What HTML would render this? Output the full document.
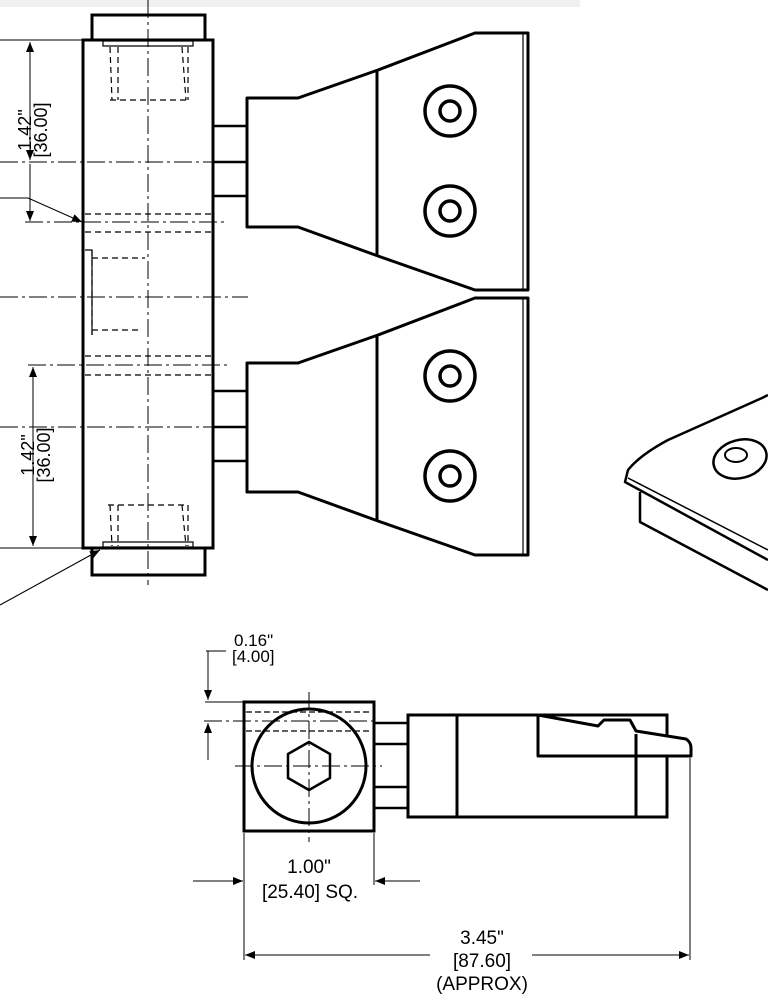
<!DOCTYPE html>
<html><head><meta charset="utf-8"><style>
html,body{margin:0;padding:0;background:#fff;}
svg{display:block;}
text{font-family:"Liberation Sans",sans-serif;fill:#000;}
</style></head><body>
<svg width="768" height="1006" viewBox="0 0 768 1006" xmlns="http://www.w3.org/2000/svg">
<defs>
<marker id="ar" viewBox="0 0 10 10" refX="10" refY="5" markerWidth="18" markerHeight="10" markerUnits="userSpaceOnUse" orient="auto-start-reverse"><path d="M0,1 L10,5 L0,9 z" fill="#000"/></marker>
<g id="jaw">
<path d="M247,98 L298,98 L378,70 L475,33 L528,33 L528,290 L475,290 L378,256 L298,227 L247,227 Z" fill="none" stroke="#000" stroke-width="3" stroke-linejoin="round"/>
<line x1="377" y1="70" x2="377" y2="256" stroke="#000" stroke-width="3"/>
<line x1="523" y1="33" x2="523" y2="290" stroke="#000" stroke-width="1.2"/>
<rect x="213" y="126" width="34" height="70" fill="none" stroke="#000" stroke-width="2.5"/>
<line x1="213" y1="162" x2="247" y2="162" stroke="#000" stroke-width="2.5"/>
<g fill="none" stroke="#000" stroke-width="3.5">
<circle cx="450" cy="111" r="25"/><circle cx="450" cy="111" r="10"/>
<circle cx="450" cy="211" r="25"/><circle cx="450" cy="211" r="10"/>
</g>
</g>
</defs>
<rect x="0" y="0" width="580" height="7" fill="#f0f0f0"/>
<!-- top view -->
<g fill="none" stroke="#000">
<rect x="92" y="15" width="113" height="25" stroke-width="3"/>
<rect x="92" y="548" width="113" height="27" stroke-width="3"/>
<rect x="83" y="40" width="130" height="508" stroke-width="3"/>
<g stroke-width="1.2" stroke-dasharray="6,4">
<path d="M110,47 L112,100 M118,47 L118,100 M188,47 L188,100 M182,47 L186,100 M110,100 L188,100"/>
<path d="M110,505 L112,546 M118,505 L118,546 M188,505 L188,546 M182,505 L186,546 M108,505 L188,505"/>
<line x1="85" y1="214" x2="211" y2="214"/><line x1="85" y1="232" x2="211" y2="232"/>
<line x1="85" y1="356" x2="211" y2="356"/><line x1="85" y1="375" x2="211" y2="375"/>
<path d="M92,250 L92,335 M92,258 L145,258 M92,330 L140,330"/>
</g>
<path d="M103,41 L193,41 L193,46 L103,46Z M103,542 L193,542 L193,547 L103,547Z" stroke-width="1.2"/>
<path d="M85,250 L92,250 L92,335" stroke-width="1.2"/>
<g stroke-width="1" stroke-dasharray="18,4,3,4">
<line x1="148" y1="0" x2="148" y2="585"/>
<line x1="0" y1="162" x2="213" y2="162"/>
<line x1="25" y1="222" x2="228" y2="222"/>
<line x1="0" y1="297" x2="248" y2="297"/>
<line x1="28" y1="365" x2="228" y2="365"/>
<line x1="0" y1="427" x2="213" y2="427"/>
</g>
<g stroke-width="1">
<line x1="0" y1="40" x2="82" y2="40"/>
<line x1="0" y1="548" x2="82" y2="548"/>
<line x1="0" y1="198" x2="28" y2="198"/>
<line x1="30" y1="42" x2="30" y2="160" marker-start="url(#ar)" marker-end="url(#ar)"/>
<line x1="30" y1="164" x2="30" y2="221" marker-end="url(#ar)"/>
<line x1="33" y1="367" x2="33" y2="546" marker-start="url(#ar)" marker-end="url(#ar)"/>
<line x1="28" y1="198" x2="82" y2="222" marker-end="url(#ar)"/>
<line x1="0" y1="605" x2="100" y2="550" marker-end="url(#ar)"/>
</g>
</g>
<text transform="translate(31,130) rotate(-90)" font-size="18" text-anchor="middle">1.42"</text>
<text transform="translate(47,130) rotate(-90)" font-size="18" text-anchor="middle">[36.00]</text>
<text transform="translate(34,455) rotate(-90)" font-size="18" text-anchor="middle">1.42"</text>
<text transform="translate(50,455) rotate(-90)" font-size="18" text-anchor="middle">[36.00]</text>
<use href="#jaw"/>
<use href="#jaw" transform="translate(0,265)"/>
<!-- iso fragment -->
<g fill="none" stroke="#000" stroke-width="2.5" stroke-linejoin="round">
<path d="M768,395 L762,398 L668,440 Q640,455 628,470 L625,482 L768,560"/>
<path d="M628,478 L768,550" stroke-width="1.5"/>
<path d="M640,492 L640,522 L768,590"/>
<ellipse cx="740" cy="459" rx="27" ry="19" transform="rotate(-15 740 459)"/>
<ellipse cx="736" cy="455" rx="11" ry="7" stroke-width="2"/>
</g>
<!-- side view -->
<g fill="none" stroke="#000">
<rect x="244" y="702" width="130" height="129" stroke-width="3"/>
<circle cx="309" cy="766" r="57" stroke-width="3"/>
<polygon points="309,742 330,754 330,778 309,790 288,778 288,754" stroke-width="2.5"/>
<g stroke-width="1.2" stroke-dasharray="6,3"><line x1="246" y1="712" x2="372" y2="712"/><line x1="246" y1="731" x2="372" y2="731"/></g>
<g stroke-width="1" stroke-dasharray="18,4,3,4">
<line x1="309" y1="692" x2="309" y2="842"/>
<line x1="235" y1="766" x2="382" y2="766"/>
<line x1="204" y1="721" x2="375" y2="721"/>
</g>
<rect x="374" y="723" width="34" height="85" stroke-width="2.5"/>
<line x1="374" y1="744" x2="408" y2="744" stroke-width="2.5"/>
<line x1="374" y1="787" x2="408" y2="787" stroke-width="2.5"/>
<rect x="408" y="715" width="259" height="102" stroke-width="3"/>
<line x1="457" y1="715" x2="457" y2="817" stroke-width="3"/>
<path d="M538,715 L598,726 L604,720 L630,720 L636,731 L686,739 Q691,742 691,748 L691,756 L538,756 Z" fill="#fff" stroke-width="3" stroke-linejoin="round"/>
<line x1="636" y1="734" x2="636" y2="817" stroke-width="3"/>
<g stroke-width="1">
<line x1="206" y1="651" x2="226" y2="651"/>
<line x1="208" y1="651" x2="208" y2="700" marker-end="url(#ar)"/>
<line x1="208" y1="760" x2="208" y2="723" marker-end="url(#ar)"/>
<line x1="205" y1="702" x2="244" y2="702"/>
<line x1="244" y1="833" x2="244" y2="960"/>
<line x1="374" y1="833" x2="374" y2="885"/>
<line x1="690" y1="758" x2="690" y2="960"/>
<line x1="193" y1="881" x2="243" y2="881" marker-end="url(#ar)"/>
<line x1="420" y1="881" x2="375" y2="881" marker-end="url(#ar)"/>
<line x1="430" y1="955" x2="245" y2="955" marker-end="url(#ar)"/>
<line x1="532" y1="955" x2="689" y2="955" marker-end="url(#ar)"/>
</g>
</g>
<text x="234" y="646" font-size="17">0.16"</text>
<text x="232" y="662" font-size="17">[4.00]</text>
<text x="309" y="873" font-size="19" text-anchor="middle">1.00"</text>
<text x="310" y="898" font-size="19" text-anchor="middle">[25.40] SQ.</text>
<text x="482" y="944" font-size="19" text-anchor="middle">3.45"</text>
<text x="482" y="967" font-size="19" text-anchor="middle">[87.60]</text>
<text x="482" y="990" font-size="19" text-anchor="middle">(APPROX)</text>
</svg>
</body></html>
